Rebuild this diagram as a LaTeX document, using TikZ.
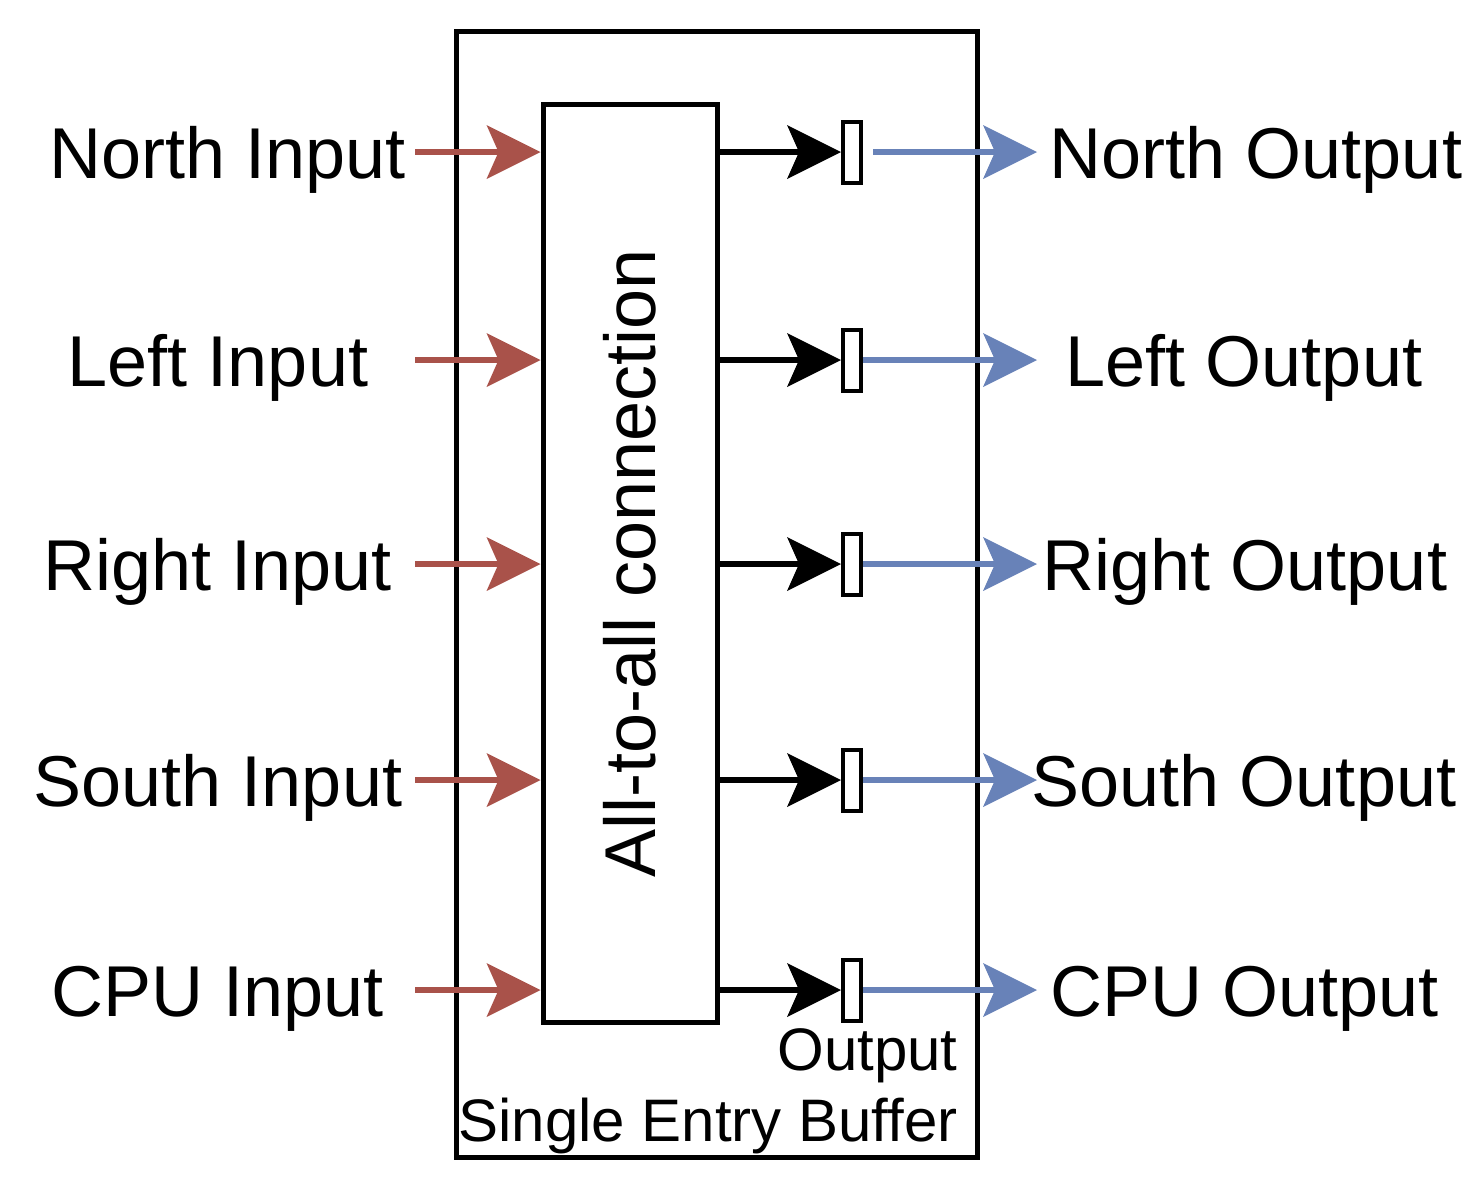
\documentclass[tikz,border=0pt]{standalone}
\usepackage{fontspec}
\setmainfont{Liberation Sans}
\usetikzlibrary{arrows.meta}

\definecolor{inred}{HTML}{A9524A}
\definecolor{outblue}{HTML}{6882B8}

\tikzset{%
  % Specifications for style of nodes:
         iolabel/.style = {font=\fontsize{36pt}{43pt}\selectfont, inner sep=0pt, anchor=base},
        smalltxt/.style = {font=\fontsize{30pt}{36pt}\selectfont, inner sep=0pt, anchor=base east},
          bufbox/.style = {rectangle, draw=black, line width=2pt, fill=white, inner sep=0pt, minimum width=9pt, minimum height=30.5pt},
  % Specifications for style of arrows:
         tiparrow/.style = {-{Stealth[length=27pt, width=27pt, inset=6pt, line width=0pt]}, line width=2.75pt},
}

\begin{document}
\begin{tikzpicture}[x=0.5pt, y=-0.5pt]
    \useasboundingbox (0,0) rectangle (1484,1196);

    % Draw nodes
    \node (seb)   [rectangle, draw=black, line width=2.5pt, minimum width=260.5pt, minimum height=563pt] at (716.5,594) {};
    \node (all)   [rectangle, draw=black, line width=2.5pt, minimum width=87pt, minimum height=459pt] at (630,563) {};
    \node (alltxt) [font=\fontsize{36pt}{43pt}\selectfont, rotate=90, inner sep=0pt] at (all.center) {All-to-all connection};

    \node (nin)   [iolabel] at (228,178)  {North Input};
    \node (lin)   [iolabel] at (218,386)  {Left Input};
    \node (rin)   [iolabel] at (218,590)  {Right Input};
    \node (sin)   [iolabel] at (218,806)  {South Input};
    \node (cin)   [iolabel] at (218,1016) {CPU Input};

    \node (nout)  [iolabel] at (1256,178)  {North Output};
    \node (lout)  [iolabel] at (1244,386)  {Left Output};
    \node (rout)  [iolabel] at (1245,590)  {Right Output};
    \node (sout)  [iolabel] at (1244,806)  {South Output};
    \node (cout)  [iolabel] at (1245,1016) {CPU Output};

    \node (bn)    [bufbox] at (852,152) {};
    \node (bl)    [bufbox] at (852,360) {};
    \node (br)    [bufbox] at (852,564) {};
    \node (bs)    [bufbox] at (852,780) {};
    \node (bc)    [bufbox] at (852,990) {};

    \node (outtxt) [smalltxt] at (958,1070) {Output};
    \node (sebtxt) [smalltxt] at (958,1141) {Single Entry Buffer};

    \coordinate (inn) at (415,152);
    \coordinate (inl) at (415,360);
    \coordinate (inr) at (415,564);
    \coordinate (ins) at (415,780);
    \coordinate (inc) at (415,990);

    \coordinate (onn) at (1037,152);
    \coordinate (onl) at (1037,360);
    \coordinate (onr) at (1037,564);
    \coordinate (ons) at (1037,780);
    \coordinate (onc) at (1037,990);

    % Draw arrows
    \draw[tiparrow, draw=inred, fill=inred]     (inn) -- (inn -| all.west);
    \draw[tiparrow, draw=inred, fill=inred]     (inl) -- (inl -| all.west);
    \draw[tiparrow, draw=inred, fill=inred]     (inr) -- (inr -| all.west);
    \draw[tiparrow, draw=inred, fill=inred]     (ins) -- (ins -| all.west);
    \draw[tiparrow, draw=inred, fill=inred]     (inc) -- (inc -| all.west);

    \draw[tiparrow]       (all.east |- bn) -- (bn.west);
    \draw[tiparrow]       (all.east |- bl) -- (bl.west);
    \draw[tiparrow]       (all.east |- br) -- (br.west);
    \draw[tiparrow]       (all.east |- bs) -- (bs.west);
    \draw[tiparrow]       (all.east |- bc) -- (bc.west);

    \draw[tiparrow, draw=outblue, shorten <=5pt]  (bn.east) -- (onn);
    \draw[tiparrow, draw=outblue]                 (bl.east) -- (onl);
    \draw[tiparrow, draw=outblue]                 (br.east) -- (onr);
    \draw[tiparrow, draw=outblue]                 (bs.east) -- (ons);
    \draw[tiparrow, draw=outblue]                 (bc.east) -- (onc);

\end{tikzpicture}
\end{document}
